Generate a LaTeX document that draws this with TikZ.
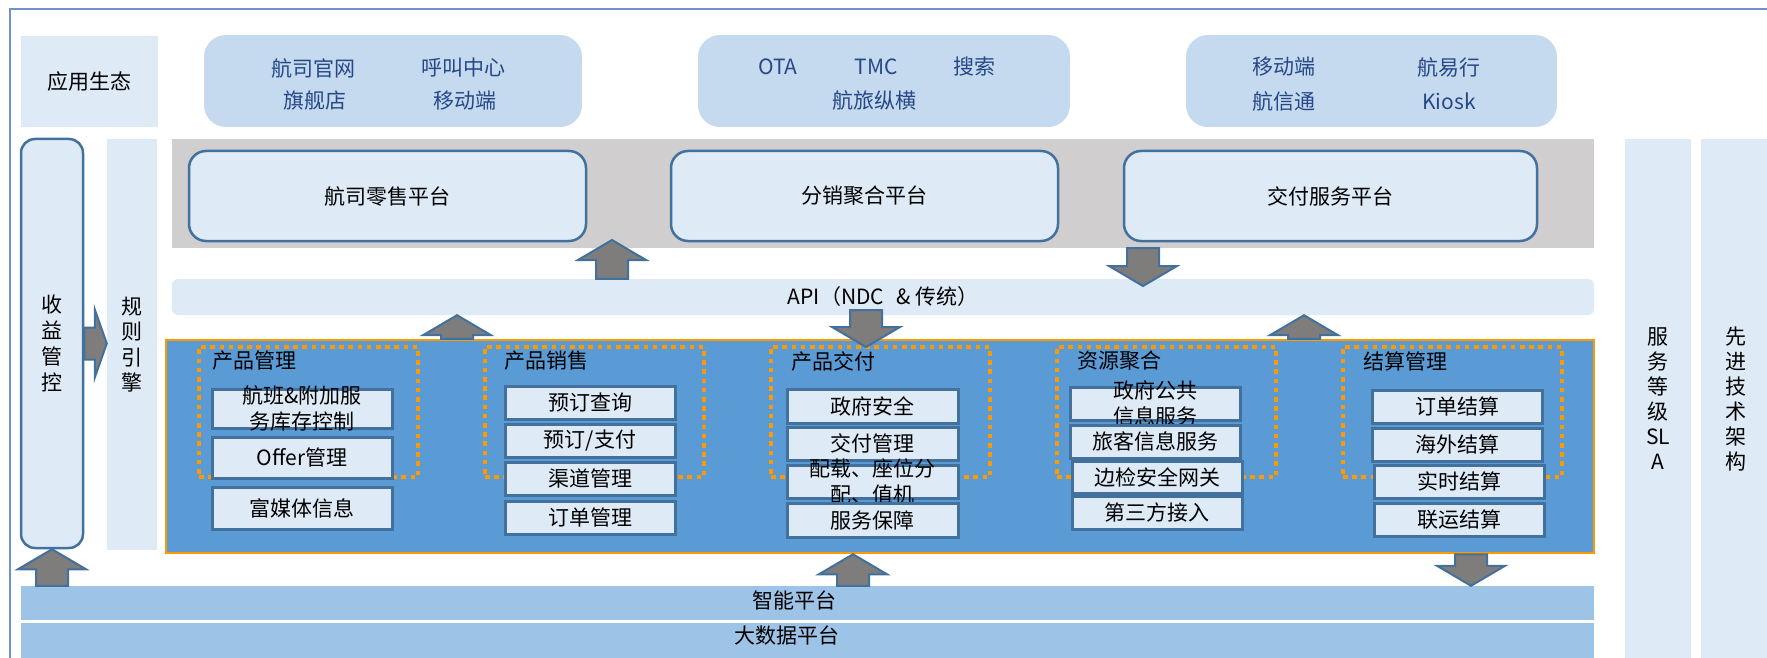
\documentclass[tikz,border=0pt]{standalone}
\usepackage{fontspec}
\newfontfamily\cjkfont{Noto Sans CJK SC}
\usepackage{tikz}
\usetikzlibrary{calc}
\definecolor{pale}{RGB}{222,235,247}
\definecolor{appblue}{RGB}{197,218,239}
\definecolor{apptext}{RGB}{38,72,135}
\definecolor{mainblue}{RGB}{91,155,213}
\definecolor{barblue}{RGB}{157,195,230}
\definecolor{bandgray}{RGB}{208,206,206}
\definecolor{edge}{RGB}{65,113,156}
\definecolor{arrgray}{RGB}{127,124,124}
\definecolor{dotorange}{RGB}{255,153,0}
\definecolor{framecol}{RGB}{110,146,203}

\newcommand{\bigarrow}[3][20pt]{%
  \coordinate (ba) at ($(#3)!#1!(#2)$);
  \draw[bigarr] ($(#2)!16pt!90:(#3)$) -- ($(ba)!16pt!-90:(#2)$) -- ($(ba)!34pt!-90:(#2)$)
    -- (#3) -- ($(ba)!34pt!90:(#2)$) -- ($(ba)!16pt!90:(#2)$) -- ($(#2)!16pt!-90:(#3)$) -- cycle;}
\newcommand{\twolines}[2]{\smash{\raisebox{-8pt}{\begin{tabular}{@{}c@{}}#1\\#2\end{tabular}}}}

\begin{document}
\begin{tikzpicture}[x=1pt, y=-1pt,
  every node/.style={font=\cjkfont\fontsize{21pt}{25pt}\selectfont, inner sep=0pt},
  palebox/.style={fill=pale},
  appbox/.style={fill=appblue, rounded corners=22pt, minimum height=92pt},
  apptxt/.style={text=apptext},
  platbox/.style={draw=edge, line width=2.5pt, fill=pale, rounded corners=17pt, minimum height=90pt},
  dotframe/.style={draw=dotorange, line width=4.5pt, dash pattern=on 4.6pt off 4.6pt, minimum width=219pt, minimum height=130pt},
  item/.style={draw=edge, line width=3pt, fill=pale, minimum width=170pt, minimum height=33pt},
  bar/.style={fill=barblue, minimum width=1573pt},
  stack/.style={palebox, align=center, minimum height=520pt},
  bigarr/.style={fill=arrgray, draw=edge, line width=2pt}]
  \useasboundingbox (0,0) rectangle (1767,658);
  \draw[framecol, line width=2pt] (10,658) -- (10,9) -- (1767,9);

  \node[palebox, minimum width=137pt, minimum height=91pt] (eco) at (89.5,81.5) {应用生态};
  \node[appbox, minimum width=378pt] (app1) at (393,81) {};
  \node[apptxt] (web) at (313,68) {航司官网};
  \node[apptxt] (call) at (463,68) {呼叫中心};
  \node[apptxt] (store) at (315,101) {旗舰店};
  \node[apptxt] (mob1) at (465,101) {移动端};
  \node[appbox, minimum width=372pt] (app2) at (884,81) {};
  \node[apptxt] (ota) at (778,67) {OTA};
  \node[apptxt] (tmc) at (876,67) {TMC};
  \node[apptxt] (search) at (974,67) {搜索};
  \node[apptxt] (umetrip) at (874,100) {航旅纵横};
  \node[appbox, minimum width=371pt] (app3) at (1371.5,81) {};
  \node[apptxt] (mob2) at (1284,67) {移动端};
  \node[apptxt] (hyx) at (1449,67) {航易行};
  \node[apptxt] (hxt) at (1284,101) {航信通};
  \node[apptxt] (kiosk) at (1449,101) {Kiosk};

  \node[fill=bandgray, minimum width=1422pt, minimum height=109pt] (band) at (883,193.5) {};
  \node[platbox, minimum width=397pt] (retail) at (387.5,196) {航司零售平台};
  \node[platbox, minimum width=387pt] (distrib) at (864.5,196) {分销聚合平台};
  \node[platbox, minimum width=413pt] (deliver) at (1330.5,196) {交付服务平台};

  \node[palebox, rounded corners=6pt, minimum width=1422pt, minimum height=36pt] (api) at (883,297) {API（NDC\hspace{12pt}\& 传统）};

  \node[fill=mainblue, draw=dotorange, line width=2.5pt, minimum width=1428pt, minimum height=213pt] (core) at (880,446.5) {};
  \node[dotframe] (gprod) at (308.5,412) {};
  \node[dotframe] (gsale) at (594.5,412) {};
  \node[dotframe] (gdeliv) at (880.5,412) {};
  \node[dotframe] (gres) at (1166.5,412) {};
  \node[dotframe] (gsettle) at (1452.5,412) {};
  \node[anchor=west] (tprod) at (212,361) {产品管理};
  \node[anchor=west] (tsale) at (504,361) {产品销售};
  \node[anchor=west] (tdeliv) at (791,361) {产品交付};
  \node[anchor=west] (tres) at (1077,361) {资源聚合};
  \node[anchor=west] (tsettle) at (1363,361) {结算管理};

  \node[item, minimum width=180pt, minimum height=39pt] (inv) at (302,408.5) {\twolines{航班\&附加服}{务库存控制}};
  \node[item, minimum width=180pt, minimum height=41pt] (offer) at (302,457.5) {Offer管理};
  \node[item, minimum width=180pt, minimum height=42pt] (media) at (302,508) {富媒体信息};

  \node[item] (query) at (590,402.5) {预订查询};
  \node[item] (book) at (590,440.5) {预订/支付};
  \node[item] (channel) at (590,478.5) {渠道管理};
  \node[item] (order) at (590,517.5) {订单管理};

  \node[item, minimum width=171pt, minimum height=34pt] (gov) at (872.5,406) {政府安全};
  \node[item, minimum width=171pt] (dmgmt) at (872.5,443.5) {交付管理};
  \node[item, minimum width=171pt] (seat) at (872.5,481.5) {\twolines{配载、座位分}{配、值机}};
  \node[item, minimum width=171pt, minimum height=34pt] (assure) at (872.5,520) {服务保障};

  \node[item] (pubinfo) at (1155,403.5) {\twolines{政府公共}{信息服务}};
  \node[item] (pax) at (1155,441.5) {旅客信息服务};
  \node[item, minimum height=32pt] (border) at (1157,477) {边检安全网关};
  \node[item] (third) at (1157,512.5) {第三方接入};

  \node[item] (sorder) at (1457,406.5) {订单结算};
  \node[item] (soversea) at (1457,444.5) {海外结算};
  \node[item] (sreal) at (1459,481.5) {实时结算};
  \node[item] (sinter) at (1459,519.5) {联运结算};

  \node[palebox, draw=edge, line width=2.5pt, rounded corners=14pt, minimum width=62pt, minimum height=409pt, align=center,
    font=\cjkfont\fontsize{21pt}{26pt}\selectfont] (revenue) at (52,343.5) {收\\益\\管\\控};
  \node[palebox, minimum width=50pt, minimum height=411pt, align=center,
    font=\cjkfont\fontsize{21pt}{25.5pt}\selectfont] (rules) at (132,344.5) {规\\则\\引\\擎};

  \node[bar, minimum height=34pt] (ai) at (807.5,603) {};
  \node (aitxt) at (794,600) {智能平台};
  \node[bar, minimum height=37pt] (bigdata) at (807.5,641.5) {};
  \node (bdtxt) at (787,636) {大数据平台};

  \node[stack, minimum width=66pt] (sla) at (1658,399) {服\\务\\等\\级\\SL\\A};
  \node[stack, minimum width=70pt] (tech) at (1736,399) {先\\进\\技\\术\\架\\构};

  \coordinate (up2) at (612,240);
  \coordinate (dn3) at (1143,286);
  \coordinate (dn4s) at (866,310);
  \coordinate (dn4) at (866,347);
  \bigarrow{ai.north -| revenue.south}{revenue.south}
  \bigarrow[12pt]{revenue.east}{revenue.east -| rules.west}
  \bigarrow{api.north -| up2}{up2}
  \bigarrow{band.south -| dn3}{dn3}
  \bigarrow{dn4s}{dn4}
  \bigarrow{core.north -| 457,0}{api.south -| 457,0}
  \bigarrow{core.north -| 1304,0}{api.south -| 1304,0}
  \bigarrow{core.south -| 1471,0}{ai.north -| 1471,0}
  \bigarrow{ai.north -| 853,0}{core.south -| 853,0}
\end{tikzpicture}
\end{document}
